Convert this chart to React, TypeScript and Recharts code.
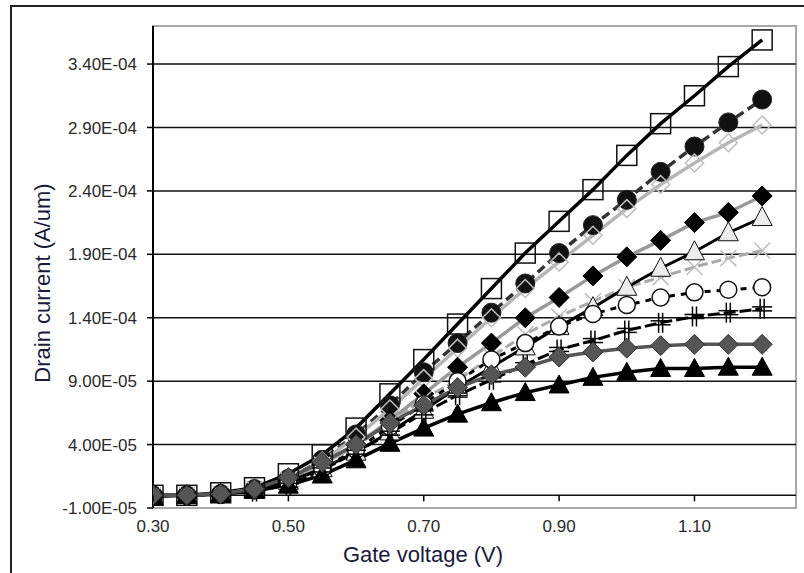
import React from 'react';
import { LineChart, Line, XAxis, YAxis, ReferenceLine, ReferenceArea } from 'recharts';

const voltages = [0.30, 0.35, 0.40, 0.45, 0.50, 0.55, 0.60, 0.65, 0.70, 0.75, 0.80, 0.85, 0.90, 0.95, 1.00, 1.05, 1.10, 1.15, 1.20];

// values in units of 1E-04 A/um
const sSquare = [0.00, 0.00, 0.02, 0.06, 0.17, 0.32, 0.53, 0.80, 1.07, 1.35, 1.63, 1.91, 2.16, 2.41, 2.68, 2.93, 3.15, 3.38, 3.59];
const sCircle = [0.00, 0.00, 0.01, 0.05, 0.13, 0.28, 0.48, 0.71, 0.97, 1.20, 1.44, 1.67, 1.91, 2.13, 2.33, 2.55, 2.75, 2.94, 3.12];
const sOpenDiamond = [0.00, 0.00, 0.01, 0.05, 0.13, 0.27, 0.46, 0.68, 0.92, 1.16, 1.40, 1.63, 1.84, 2.05, 2.26, 2.45, 2.62, 2.78, 2.92];
const sBlackDiamond = [0.00, 0.00, 0.01, 0.05, 0.12, 0.24, 0.40, 0.59, 0.80, 1.01, 1.20, 1.40, 1.56, 1.73, 1.88, 2.01, 2.15, 2.23, 2.36];
const sCross = [0.00, 0.00, 0.01, 0.05, 0.12, 0.24, 0.39, 0.57, 0.76, 0.91, 1.09, 1.27, 1.41, 1.53, 1.64, 1.72, 1.80, 1.87, 1.93];
const sOpenTriangle = [0.00, 0.00, 0.01, 0.04, 0.11, 0.21, 0.34, 0.50, 0.67, 0.85, 1.01, 1.17, 1.33, 1.48, 1.64, 1.79, 1.92, 2.07, 2.19];
const sOpenCircle = [0.00, 0.00, 0.01, 0.04, 0.10, 0.21, 0.36, 0.54, 0.72, 0.90, 1.07, 1.20, 1.33, 1.43, 1.50, 1.56, 1.60, 1.62, 1.64];
const sPlus = [0.00, 0.00, 0.01, 0.03, 0.08, 0.20, 0.34, 0.49, 0.65, 0.79, 0.91, 1.03, 1.15, 1.22, 1.30, 1.36, 1.41, 1.44, 1.47];
const sBlackTriangle = [-0.01, 0.00, 0.01, 0.04, 0.08, 0.16, 0.28, 0.41, 0.53, 0.64, 0.73, 0.81, 0.87, 0.93, 0.97, 1.00, 1.00, 1.01, 1.01];
const sGrayDiamond = [0.00, 0.00, 0.01, 0.05, 0.14, 0.26, 0.40, 0.57, 0.71, 0.85, 0.95, 1.01, 1.09, 1.13, 1.16, 1.18, 1.19, 1.19, 1.19];

const xTicks = [0.3, 0.5, 0.7, 0.9, 1.1];
const yTicks = [-1e-5, 4e-5, 9e-5, 1.4e-4, 1.9e-4, 2.4e-4, 2.9e-4, 3.4e-4];
const Y_MIN = -1e-5;
const Y_MAX = 3.7e-4;
const X_MIN = 0.3;
const X_MAX = 1.25;

const data = voltages.map((v, i) => ({
  v,
  sq: sSquare[i] * 1e-4,
  ci: sCircle[i] * 1e-4,
  od: sOpenDiamond[i] * 1e-4,
  bd: sBlackDiamond[i] * 1e-4,
  cr: sCross[i] * 1e-4,
  ot: sOpenTriangle[i] * 1e-4,
  oc: sOpenCircle[i] * 1e-4,
  pl: sPlus[i] * 1e-4,
  bt: sBlackTriangle[i] * 1e-4,
  gd: sGrayDiamond[i] * 1e-4,
}));

const W = 804;
const H = 573;
const M_TOP = 26;
const M_RIGHT = 8;
const M_BOTTOM = 25;
const Y_AXIS_W = 153;
const X_AXIS_H = 40;
const PLOT_H = H - M_TOP - M_BOTTOM - X_AXIS_H;
const ZERO_OFFSET = ((0 - Y_MIN) / (Y_MAX - Y_MIN)) * PLOT_H;
const X_TICK_MARGIN = 12;

const FONT = '"Liberation Sans", Arial, sans-serif';
const TICK_COLOR = '#2a2a2a';
const TITLE_COLOR = '#1a1a3a';

const fmtY = (v: number) => {
  const s = v.toExponential(2);
  const [m, e] = s.split('e');
  const sign = e[0] === '-' ? '-' : '+';
  const d = e.replace(/[+-]/, '').padStart(2, '0');
  return `${m}E${sign}${d}`;
};

const XTick = (props: any) => {
  const { x, y, payload } = props;
  const zeroY = y - X_TICK_MARGIN - ZERO_OFFSET;
  return (
    <g>
      <line x1={x} x2={x} y1={zeroY} y2={zeroY + 6} stroke="#000" strokeWidth={1.5} />
      <text x={x} y={y} dy="0.71em" textAnchor="middle" fill={TICK_COLOR} fontSize={17} fontFamily={FONT}>
        {Number(payload.value).toFixed(2)}
      </text>
    </g>
  );
};

type Kind = 'square' | 'circle' | 'openDiamond' | 'blackDiamond' | 'cross' | 'openTriangle' | 'openCircle' | 'plus' | 'blackTriangle' | 'grayDiamond';

const marker = (kind: Kind) => (p: any) => {
  const { cx, cy, index } = p;
  const k = `m-${kind}-${index}`;
  if (cx == null || cy == null) return <g key={k} />;
  switch (kind) {
    case 'square':
      return <rect key={k} x={cx - 10} y={cy - 10} width={20} height={20} fill="none" stroke="#111" strokeWidth={1.5} />;
    case 'circle':
      return <circle key={k} cx={cx} cy={cy} r={9.5} fill="#111" stroke="#222" strokeWidth={1} />;
    case 'openDiamond':
      return <polygon key={k} points={`${cx},${cy - 9} ${cx + 9},${cy} ${cx},${cy + 9} ${cx - 9},${cy}`} fill="none" stroke="#bdbdbd" strokeWidth={1.5} />;
    case 'blackDiamond':
      return <polygon key={k} points={`${cx},${cy - 10} ${cx + 10},${cy} ${cx},${cy + 10} ${cx - 10},${cy}`} fill="#000" stroke="#000" strokeWidth={1} />;
    case 'cross':
      return (
        <g key={k} stroke="#bdbdbd" strokeWidth={1.5}>
          <line x1={cx - 8} y1={cy - 8} x2={cx + 8} y2={cy + 8} />
          <line x1={cx - 8} y1={cy + 8} x2={cx + 8} y2={cy - 8} />
        </g>
      );
    case 'openTriangle':
      return <polygon key={k} points={`${cx},${cy - 11} ${cx + 10},${cy + 8} ${cx - 10},${cy + 8}`} fill="#ececec" stroke="#111" strokeWidth={1} />;
    case 'openCircle':
      return <circle key={k} cx={cx} cy={cy} r={8.5} fill="#fff" stroke="#111" strokeWidth={1.5} />;
    case 'plus':
      return (
        <g key={k} stroke="#000" strokeWidth={1.5}>
          <line x1={cx - 2} y1={cy - 10} x2={cx - 2} y2={cy + 10} />
          <line x1={cx + 2} y1={cy - 10} x2={cx + 2} y2={cy + 10} />
          <line x1={cx - 10} y1={cy - 2} x2={cx + 10} y2={cy - 2} />
          <line x1={cx - 10} y1={cy + 2} x2={cx + 10} y2={cy + 2} />
        </g>
      );
    case 'blackTriangle':
      return <polygon key={k} points={`${cx},${cy - 10} ${cx + 10},${cy + 8} ${cx - 10},${cy + 8}`} fill="#000" stroke="#000" strokeWidth={1} />;
    case 'grayDiamond':
      return <polygon key={k} points={`${cx},${cy - 10} ${cx + 10},${cy} ${cx},${cy + 10} ${cx - 10},${cy}`} fill="#555" stroke="#333" strokeWidth={1} />;
  }
  return <g key={k} />;
};

const series: { key: string; kind: Kind; color: string; width: number; dash?: string }[] = [
  { key: 'sq', kind: 'square', color: '#000', width: 3.5 },
  { key: 'ci', kind: 'circle', color: '#333', width: 3.5, dash: '9 5' },
  { key: 'od', kind: 'openDiamond', color: '#b5b5b5', width: 3.5 },
  { key: 'bd', kind: 'blackDiamond', color: '#999', width: 3.5 },
  { key: 'cr', kind: 'cross', color: '#aaa', width: 3, dash: '10 4' },
  { key: 'ot', kind: 'openTriangle', color: '#000', width: 3 },
  { key: 'oc', kind: 'openCircle', color: '#000', width: 3, dash: '6 6' },
  { key: 'pl', kind: 'plus', color: '#000', width: 3, dash: '12 4' },
  { key: 'bt', kind: 'blackTriangle', color: '#000', width: 3.5 },
  { key: 'gd', kind: 'grayDiamond', color: '#555', width: 3.5 },
];

export default function App() {
  return (
    <div style={{ position: 'absolute', left: 0, top: 0, width: W, height: H, overflow: 'hidden', background: '#fff' }}>
      <div style={{ position: 'absolute', left: 10, top: 5, width: 900, height: 800, borderLeft: '2px solid #222', borderTop: '2px solid #222' }} />
      <div style={{ position: 'absolute', left: 0, top: 0 }}>
        <LineChart width={W} height={H} data={data} margin={{ top: M_TOP, right: M_RIGHT, bottom: M_BOTTOM, left: 0 }}>
          <ReferenceArea x1={X_MIN} x2={X_MAX} y1={Y_MIN} y2={Y_MAX} fill="none" stroke="#a8a8a8" strokeWidth={2} />
          {yTicks.slice(1).map((t) => (
            <ReferenceLine key={`g${t}`} y={t} stroke="#111" strokeWidth={1.5} />
          ))}
          <ReferenceLine y={0} stroke="#111" strokeWidth={1.5} />
          <XAxis
            dataKey="v"
            type="number"
            domain={[X_MIN, X_MAX]}
            ticks={xTicks}
            allowDataOverflow
            axisLine={false}
            tickLine={false}
            tickSize={0}
            tickMargin={X_TICK_MARGIN}
            height={X_AXIS_H}
            tick={<XTick />}
            interval={0}
          />
          <YAxis
            type="number"
            domain={[Y_MIN, Y_MAX]}
            ticks={yTicks}
            allowDataOverflow
            width={Y_AXIS_W}
            tickSize={6}
            tickMargin={10}
            tickFormatter={fmtY}
            axisLine={{ stroke: '#000', strokeWidth: 2 }}
            tickLine={{ stroke: '#000', strokeWidth: 1.5 }}
            tick={{ fill: TICK_COLOR, fontSize: 17, fontFamily: FONT }}
            interval={0}
          />
          {series.map((s) => (
            <Line
              key={s.key}
              dataKey={s.key}
              type="linear"
              stroke={s.color}
              strokeWidth={s.width}
              strokeDasharray={s.dash}
              dot={marker(s.kind)}
              activeDot={false}
              isAnimationActive={false}
            />
          ))}
        </LineChart>
      </div>
      <svg width={W} height={H} style={{ position: 'absolute', left: 0, top: 0, pointerEvents: 'none' }}>
        <text x={423} y={554} textAnchor="middle" dominantBaseline="central" fill={TITLE_COLOR} fontSize={22} fontFamily={FONT}>
          Gate voltage (V)
        </text>
        <text
          x={42}
          y={283}
          textAnchor="middle"
          dominantBaseline="central"
          fill={TITLE_COLOR}
          fontSize={22}
          fontFamily={FONT}
          transform="rotate(-90 42 283)"
        >
          Drain current (A/um)
        </text>
      </svg>
    </div>
  );
}
